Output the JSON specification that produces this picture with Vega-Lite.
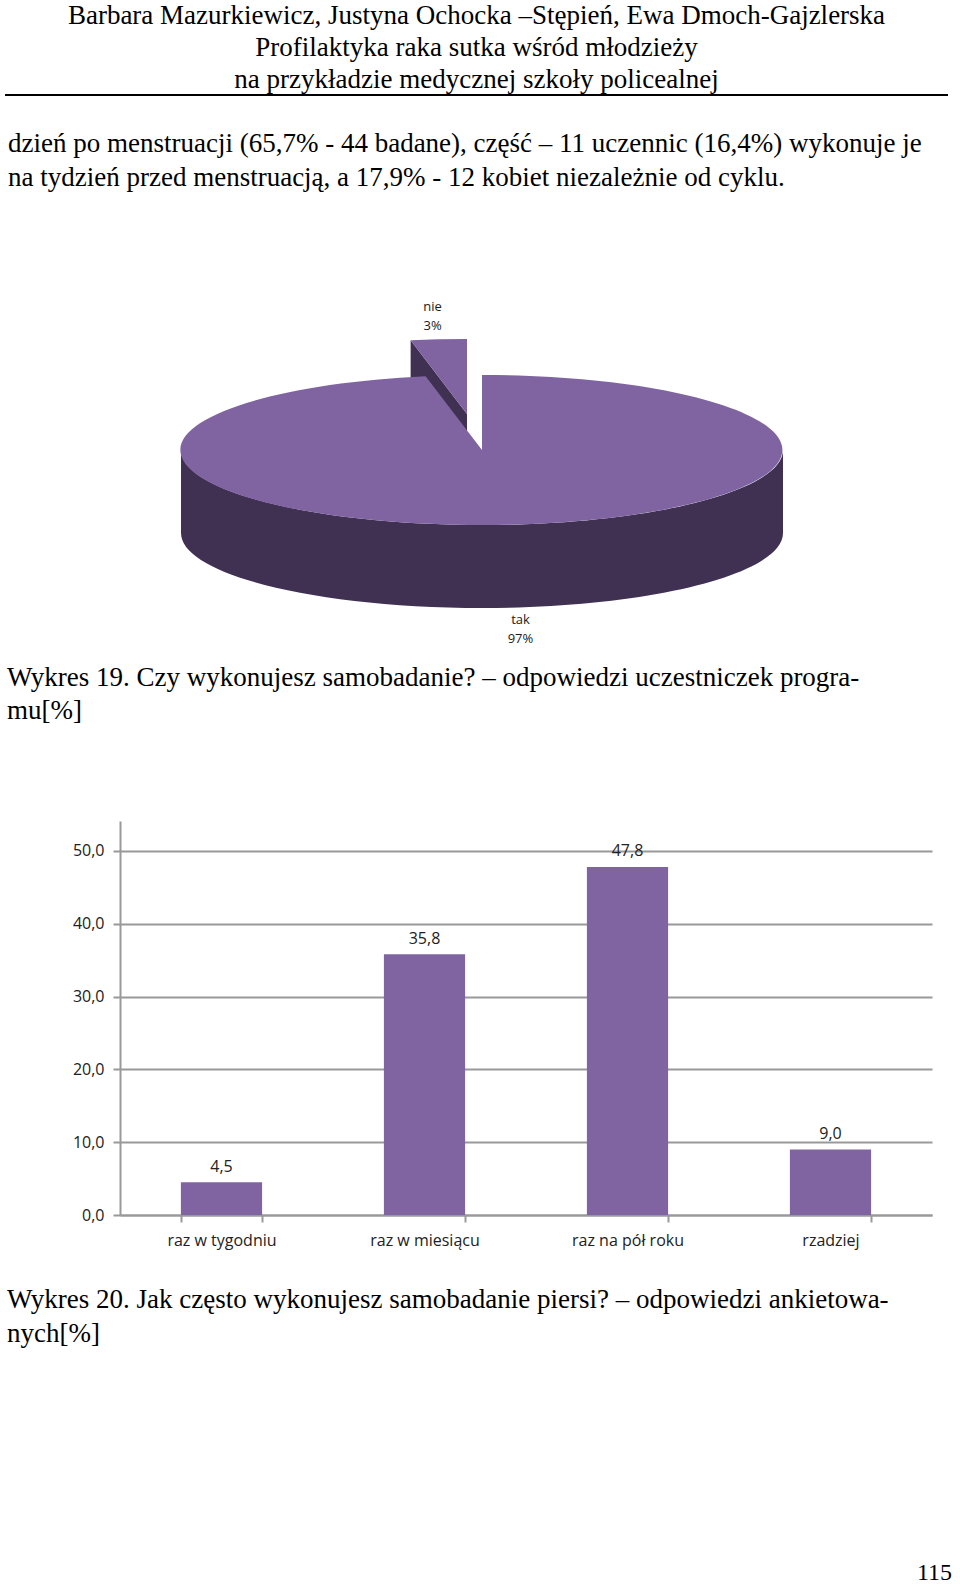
{
  "$schema": "https://vega.github.io/schema/vega-lite/v6.json",
  "background": "white",
  "padding": {"left": 5, "top": 2, "right": 0, "bottom": 0},
  "config": {
    "view": {"stroke": null},
    "locale": {"number": {"decimal": ",", "thousands": " ", "grouping": [3], "currency": ["", " zł"]}},
    "title": {"font": "Liberation Serif", "fontSize": 27, "fontWeight": "normal", "color": "black", "baseline": "top", "frame": "group"},
    "axis": {
      "labelFont": "Open Sans", "labelFontSize": 16, "labelColor": "#222222",
      "domainColor": "#999999", "domainWidth": 2,
      "tickColor": "#999999", "tickWidth": 2, "tickSize": 7,
      "gridColor": "#999999", "gridWidth": 2
    },
    "text": {"font": "Open Sans"}
  },
  "spacing": 0,
  "vconcat": [
    {
      "width": 943,
      "height": 2,
      "data": {"values": []},
      "mark": "point",
      "view": {"fill": "black", "stroke": null},
      "title": {
        "text": [
          "Barbara Mazurkiewicz, Justyna Ochocka –Stępień, Ewa Dmoch-Gajzlerska",
          "Profilaktyka raka sutka wśród młodzieży",
          "na przykładzie medycznej szkoły policealnej"
        ],
        "anchor": "middle",
        "offset": 0,
        "lineHeight": 32
      }
    },
    {"width": 943, "height": 33.2, "data": {"values": []}, "mark": "point"},
    {
      "width": 943,
      "height": 382,
      "title": {
        "text": [
          "dzień po menstruacji (65,7% - 44 badane), część – 11 uczennic (16,4%) wykonuje je",
          "na tydzień przed menstruacją, a 17,9% - 12 kobiet niezależnie od cyklu."
        ],
        "anchor": "start",
        "dx": 3,
        "offset": 89.8,
        "lineHeight": 34
      },
      "data": {"values": [
        {"odpowiedz": "tak", "udzial": 0.97},
        {"odpowiedz": "nie", "udzial": 0.03}
      ]},
      "layer": [
        {
          "mark": {"type": "point", "filled": true, "opacity": 1, "strokeWidth": 0, "color": "#403152"},
          "encoding": {
            "shape": {
              "field": "odpowiedz", "type": "nominal", "legend": null,
              "scale": {"domain": ["tak", "nie"], "range": [
                "M-295.5,-23 A301,75 0 0 0 306.5,-23 L306.5,60 A301,75 0 0 1 -295.5,60 Z",
                "M-65.9,-132.7 L-9.5,-59 L-9.5,24 L-65.9,-49.7 Z"
              ]}
            },
            "size": {"value": 4}
          }
        },
        {
          "mark": {"type": "point", "filled": true, "opacity": 1, "strokeWidth": 0, "color": "#8064A2"},
          "encoding": {
            "shape": {
              "field": "odpowiedz", "type": "nominal", "legend": null,
              "scale": {"domain": ["tak", "nie"], "range": [
                "M5.5,-23 L5.5,-98 A301,75 0 1 1 -50.9,-96.7 Z",
                "M-9.5,-59 L-9.5,-134 A301,75 0 0 0 -65.9,-132.7 Z"
              ]}
            },
            "size": {"value": 4}
          }
        },
        {
          "mark": {"type": "text", "fontSize": 13, "color": "#1a1a1a", "baseline": "middle", "dy": -9.5},
          "encoding": {
            "theta": {"field": "udzial", "type": "quantitative", "stack": false,
                      "scale": {"domain": [0, 1], "range": [6.111, 2.768]}},
            "radius": {"value": 163},
            "text": {"field": "odpowiedz", "type": "nominal"}
          }
        },
        {
          "mark": {"type": "text", "fontSize": 13, "color": "#1a1a1a", "baseline": "middle", "dy": 9.5},
          "encoding": {
            "theta": {"field": "udzial", "type": "quantitative", "stack": false,
                      "scale": {"domain": [0, 1], "range": [6.111, 2.768]}},
            "radius": {"value": 163},
            "text": {"field": "udzial", "type": "quantitative", "format": ".0%"}
          }
        }
      ],
      "resolve": {"scale": {"shape": "independent"}}
    },
    {
      "title": {
        "text": [
          "Wykres 19. Czy wykonujesz samobadanie? – odpowiedzi uczestniczek progra-",
          "mu[%]"
        ],
        "anchor": "start",
        "dx": 2,
        "offset": 95.8,
        "lineHeight": 33
      },
      "spacing": 0,
      "bounds": "flush",
      "hconcat": [
        {"width": 115, "height": 394, "data": {"values": []}, "mark": "point"},
        {
          "width": 812,
          "height": 394,
          "data": {"values": [
            {"czestotliwosc": "raz w tygodniu", "odsetek": 4.5},
            {"czestotliwosc": "raz w miesiącu", "odsetek": 35.8},
            {"czestotliwosc": "raz na pół roku", "odsetek": 47.8},
            {"czestotliwosc": "rzadziej", "odsetek": 9.0}
          ]},
          "encoding": {
            "x": {
              "field": "czestotliwosc", "type": "nominal", "sort": null, "title": null,
              "scale": {"paddingInner": 0.6, "paddingOuter": 0.3},
              "axis": {"labelAngle": 0, "tickBand": "extent", "labelPadding": 10}
            },
            "y": {
              "field": "odsetek", "type": "quantitative", "title": null,
              "scale": {"domain": [0, 54.1], "nice": false},
              "axis": {"values": [0, 10, 20, 30, 40, 50], "format": ".1f", "grid": true, "labelPadding": 9}
            }
          },
          "layer": [
            {"mark": {"type": "bar", "color": "#8064A2"}},
            {
              "mark": {"type": "text", "fontSize": 16, "color": "#222222", "baseline": "alphabetic", "dy": -10.5},
              "encoding": {"text": {"field": "odsetek", "type": "quantitative", "format": ".1f"}}
            }
          ]
        }
      ]
    },
    {
      "width": 943,
      "height": 1,
      "data": {"values": []},
      "mark": "point",
      "title": {
        "text": [
          "Wykres 20. Jak często wykonujesz samobadanie piersi? – odpowiedzi ankietowa-",
          "nych[%]"
        ],
        "orient": "bottom",
        "anchor": "start",
        "dx": 2,
        "offset": 38,
        "lineHeight": 34
      }
    },
    {
      "width": 943,
      "height": 1,
      "data": {"values": []},
      "mark": "point",
      "title": {"text": "115", "orient": "bottom", "anchor": "end", "dx": 4, "offset": 213, "fontSize": 24}
    }
  ]
}
